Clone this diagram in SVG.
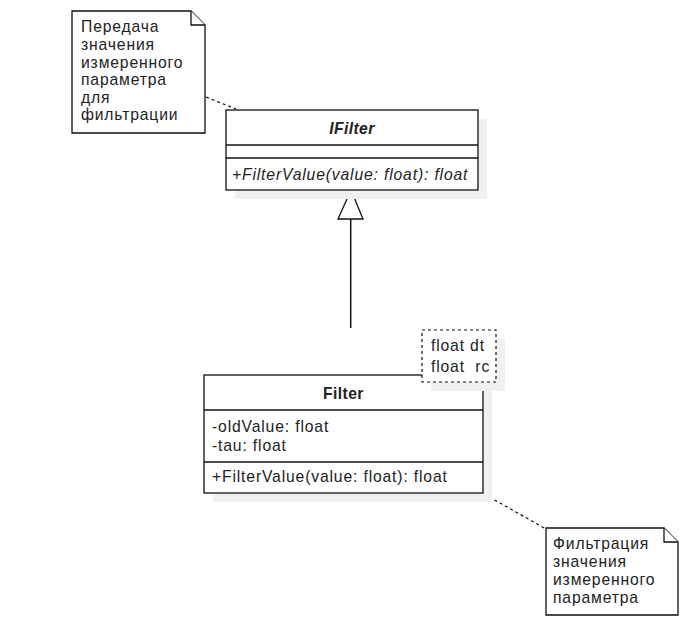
<svg xmlns="http://www.w3.org/2000/svg" width="695" height="628" viewBox="0 0 695 628">
<style>
text{font-family:"Liberation Sans",Arial,sans-serif;font-size:15.7px;letter-spacing:0.85px;fill:#222}
.box{fill:#fff;stroke:#111;stroke-width:1.3}
.shadow{fill:#f0f0f0;stroke:none}
.sep{stroke:#111;stroke-width:1.3}
.dash{fill:none;stroke:#111;stroke-width:1.2;stroke-dasharray:3 3}
.title{font-weight:bold;text-anchor:middle;letter-spacing:0.4px}
</style>
<rect width="695" height="628" fill="#fff"/>
<g id="connectors">
<line class="dash" x1="206" y1="97" x2="236" y2="109"/>
<line class="dash" x1="484" y1="494" x2="546" y2="529"/>
<line x1="350.7" y1="219" x2="350.7" y2="328" stroke="#111" stroke-width="1.5"/>
<polygon points="351,190 338,219 363,219" fill="#fff" stroke="#111" stroke-width="1.3"/>
</g>
<g id="note1">
<path class="box" d="M72,11 H191 L205,25 V133 H72 Z"/>
<path class="box" d="M191,11 V25 H205"/>
<text x="81" y="32">Передача</text>
<text x="81" y="50">значения</text>
<text x="81" y="67.5">измеренного</text>
<text x="81" y="85">параметра</text>
<text x="81" y="102.5">для</text>
<text x="81" y="120">фильтрации</text>
</g>
<g id="IFilter">
<rect class="shadow" x="235" y="119" width="252" height="80"/>
<rect class="box" x="226" y="110" width="252" height="80"/>
<line class="sep" x1="226" y1="145" x2="478" y2="145"/>
<line class="sep" x1="226" y1="158" x2="478" y2="158"/>
<text class="title" x="352" y="134" font-style="italic">IFilter</text>
<text x="232" y="180" font-style="italic">+FilterValue(value: float): float</text>
</g>
<g id="Filter">
<rect class="shadow" x="213" y="384" width="279" height="118"/>
<rect class="box" x="204" y="375" width="279" height="118"/>
<line class="sep" x1="204" y1="410" x2="483" y2="410"/>
<line class="sep" x1="204" y1="462" x2="483" y2="462"/>
<text class="title" x="343.5" y="399">Filter</text>
<text x="212" y="432">-oldValue: float</text>
<text x="212" y="450.5">-tau: float</text>
<text x="212" y="482">+FilterValue(value: float): float</text>
</g>
<g id="params">
<rect class="shadow" x="431" y="339" width="74" height="52"/>
<rect x="422" y="330" width="74" height="52" fill="#fff"/>
<rect class="dash" x="422" y="330" width="74" height="52"/>
<text x="431" y="351">float dt</text>
<text x="431" y="371.5" xml:space="preserve">float  rc</text>
</g>
<g id="note2">
<path class="box" d="M546,528 H664 L678,542 V615 H546 Z"/>
<path class="box" d="M664,528 V542 H678"/>
<text x="553" y="549">Фильтрация</text>
<text x="553" y="567">значения</text>
<text x="553" y="585">измеренного</text>
<text x="553" y="602.5">параметра</text>
</g>
</svg>
